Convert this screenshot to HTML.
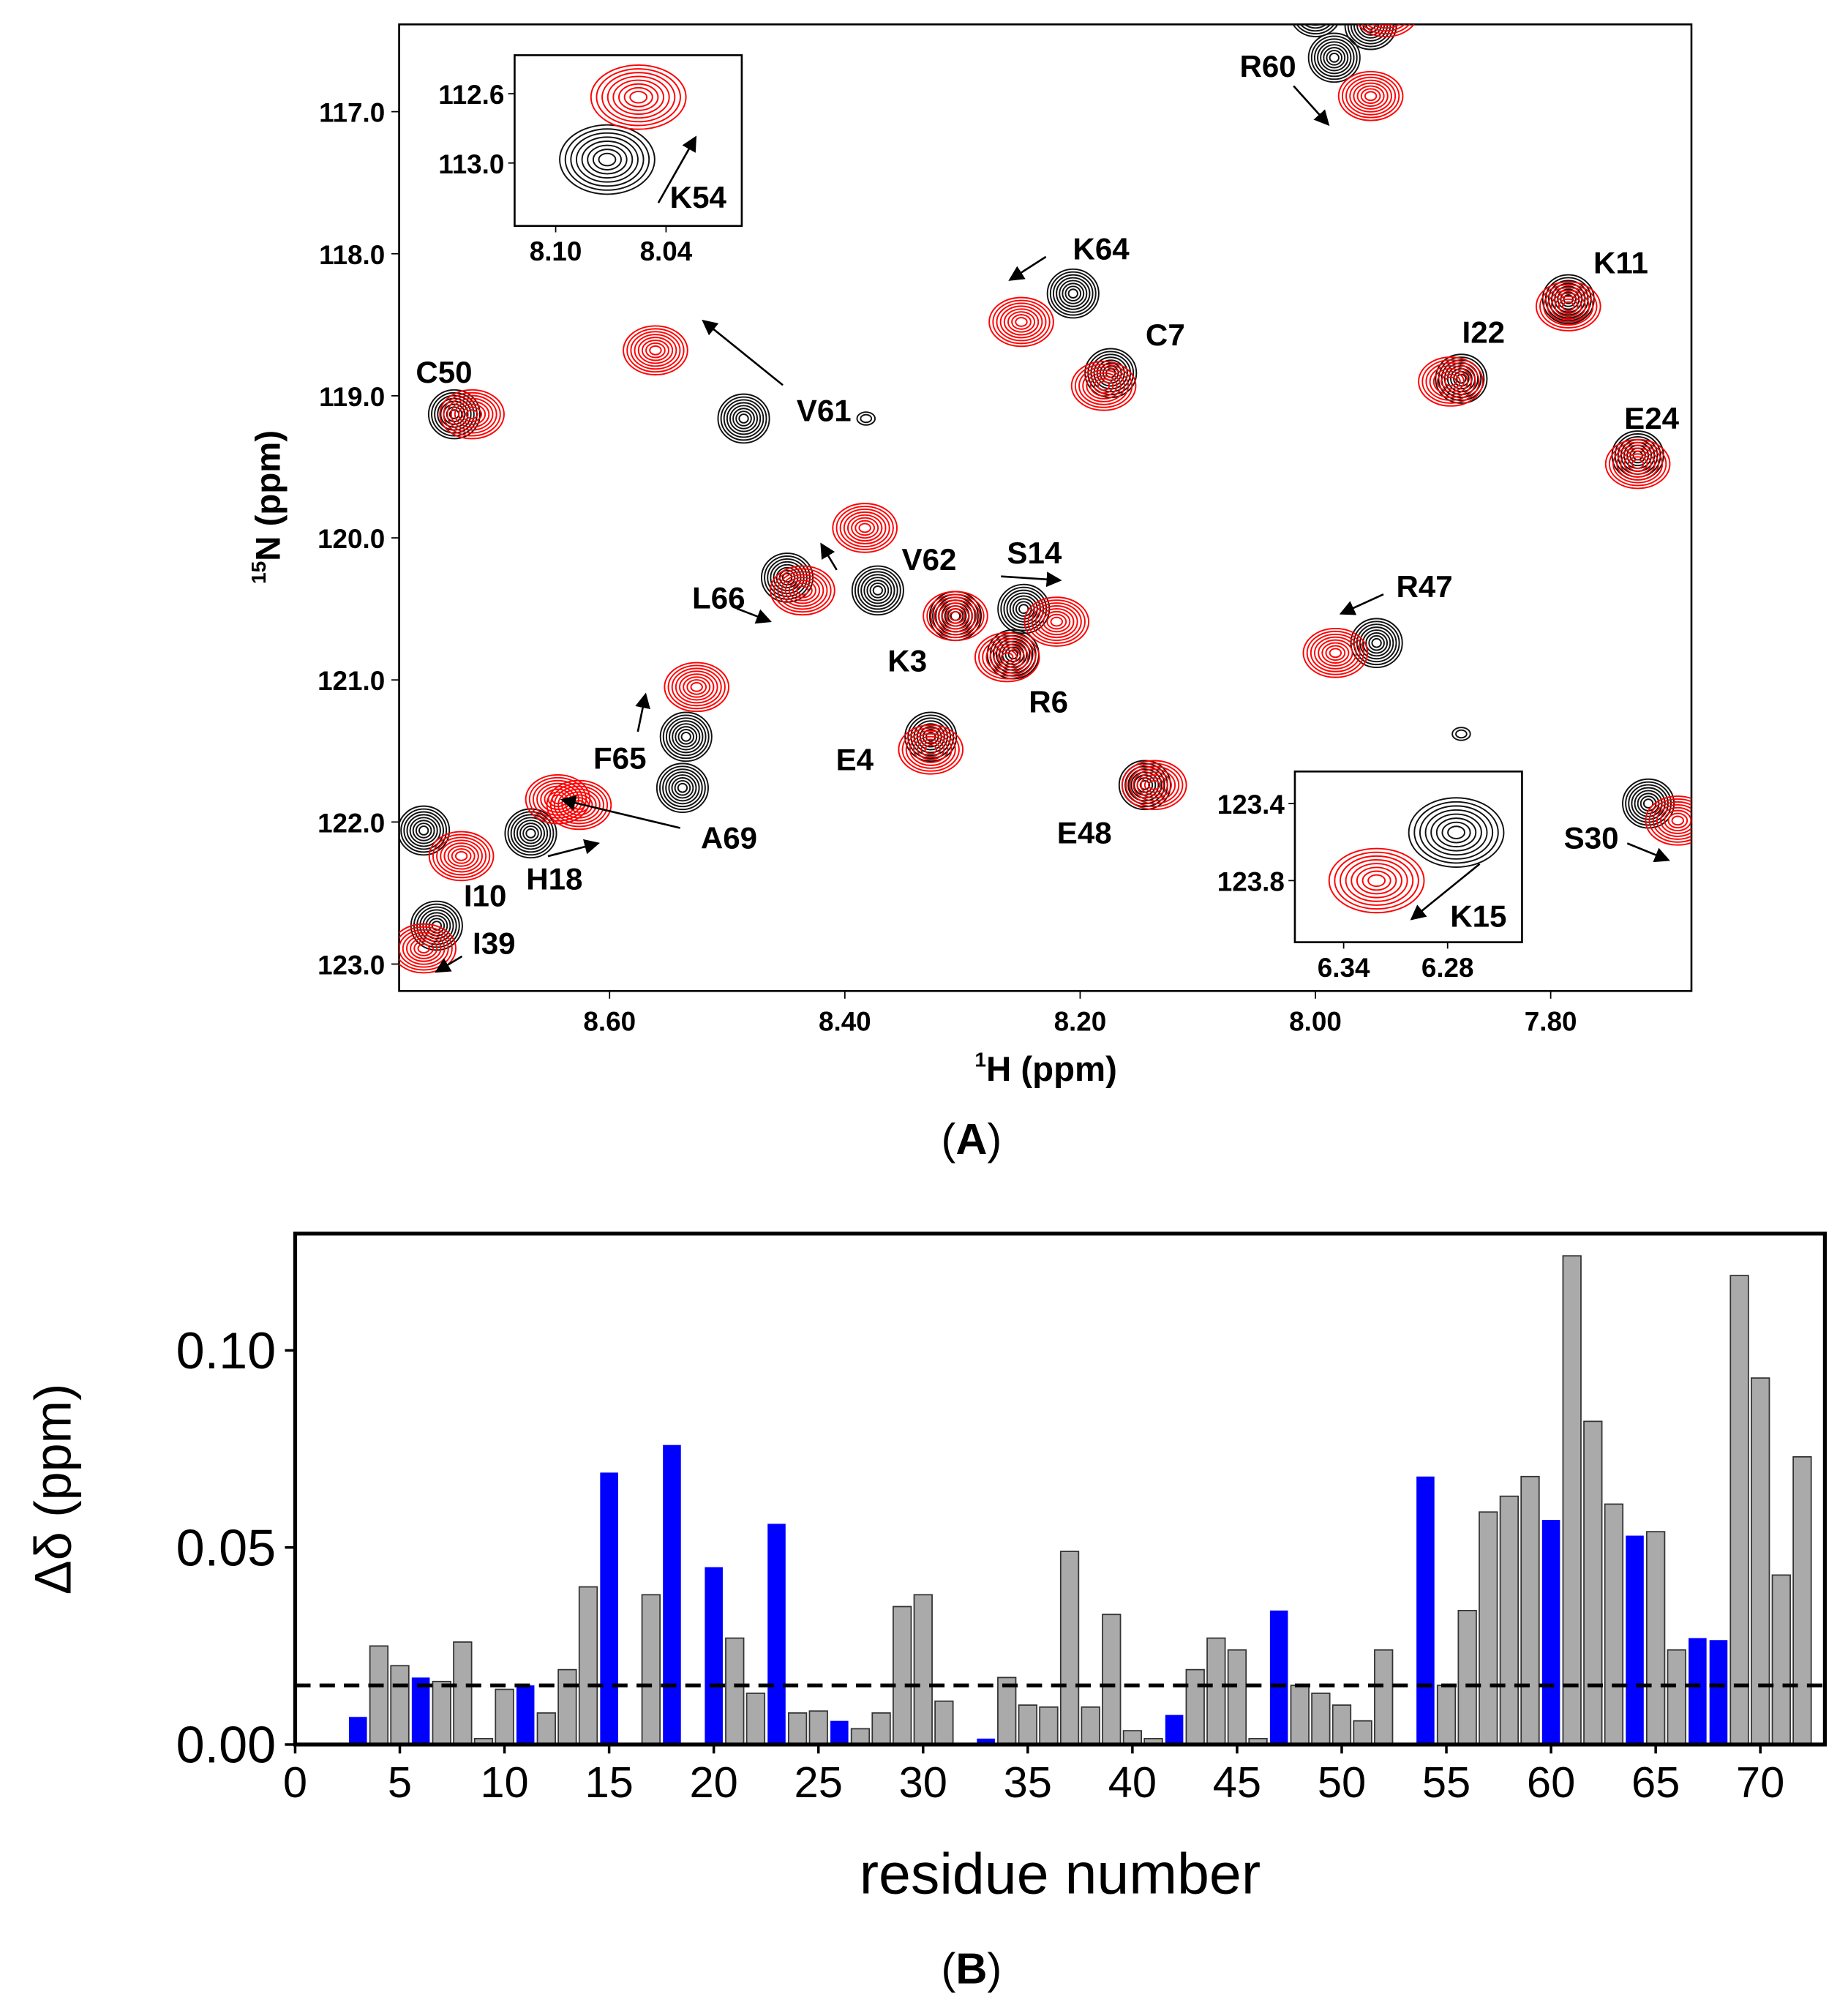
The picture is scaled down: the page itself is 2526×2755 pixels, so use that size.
<!DOCTYPE html>
<html><head><meta charset="utf-8"><style>
html,body{margin:0;padding:0;background:#fff}
svg{display:block}
text{font-family:"Liberation Sans",sans-serif}
.lb{font-weight:bold;font-size:24px}
.tk{font-weight:bold;font-size:21px}
</style></head><body>
<svg id="fig" width="2526" height="2755" viewBox="0 0 1440 1570.5" preserveAspectRatio="none" xmlns="http://www.w3.org/2000/svg">
<defs><marker id="ah" markerWidth="8" markerHeight="8" refX="7" refY="4" orient="auto"><path d="M0,0 L8,4 L0,8 z" fill="#000"/></marker></defs>
<g id="pa"></g>
<g id="pb"></g>
</svg>
<script>
const NS="http://www.w3.org/2000/svg";
function mk(p,t,a,txt){const e=document.createElementNS(NS,t);for(const k in a)e.setAttribute(k,a[k]);if(txt!==undefined)e.textContent=txt;p.appendChild(e);return e;}

// ---------- Panel A data ----------
const hTicks=[8.60,8.40,8.20,8.00,7.80];
const nTicks=[117.0,118.0,119.0,120.0,121.0,122.0,123.0];
const peakH=[8.732,8.486,8.206,8.174,7.984,7.785,7.876,7.726,8.449,8.372,8.248,8.306,8.257,8.327,7.948,8.145,7.717,8.535,8.538,8.758,8.667,8.747,7.953,8.00,8.382,7.876];
const peakN=[119.13,119.16,118.28,118.84,116.62,118.32,118.88,119.42,120.28,120.37,120.50,120.55,120.82,121.40,120.74,121.74,121.87,121.40,121.76,122.06,122.08,122.73,116.39,116.3,119.16,121.38];
const redH=[8.717,8.561,8.250,8.180,7.953,7.785,7.885,7.726,8.436,8.383,8.220,8.306,8.262,8.327,7.983,8.137,7.692,8.526,8.644,8.726,8.626,8.758,7.940];
const redN=[119.13,118.68,118.48,118.93,116.89,118.37,118.9,119.48,120.37,119.93,120.59,120.55,120.84,121.49,120.81,121.74,121.99,121.05,121.84,122.24,121.88,122.89,116.3];
const labels=["C50","V61","K64","C7","R60","K11","I22","E24","V62","S14","L66","K3","R6","E4","R47","E48","S30","F65","A69","H18","I10","I39"];
const labelH=[8.7407,8.4178,8.1822,8.1276,8.0404,7.7404,7.8571,7.7142,8.3284,8.2389,8.5073,8.3469,8.2269,8.3916,7.9073,8.1964,7.7655,8.5913,8.4985,8.6469,8.7058,8.6982];
const labelN=[118.907,119.178,118.039,118.645,116.756,118.139,118.626,119.232,120.226,120.181,120.497,120.940,121.229,121.635,120.416,122.150,122.187,121.626,122.187,122.476,122.594,122.928];

const X=v=>475+(8.60-v)*916.67, Y=v=>87+(v-117)*110.67;
const A=document.getElementById('pa');
mk(A,'rect',{x:311,y:19,width:1007,height:753,fill:'none',stroke:'#000','stroke-width':1.5});
hTicks.forEach(t=>{mk(A,'line',{x1:X(t),x2:X(t),y1:772,y2:778,stroke:'#000'});
 const e=mk(A,'text',{x:X(t),y:803,'text-anchor':'middle',class:'tk'},t.toFixed(2));
 });
nTicks.forEach(t=>{mk(A,'line',{x1:305,x2:311,y1:Y(t),y2:Y(t),stroke:'#000'});
 const e=mk(A,'text',{x:300,y:Y(t)+8,'text-anchor':'end',class:'tk'},t.toFixed(1));
 });
let t=mk(A,'text',{x:815,y:842,'text-anchor':'middle','font-weight':'bold','font-size':27});
t.innerHTML='<tspan font-size="16" dy="-11">1</tspan><tspan dy="11">H (ppm)</tspan>';

t=mk(A,'text',{transform:'translate(218,395) rotate(-90)','text-anchor':'middle','font-weight':'bold','font-size':27});
t.innerHTML='<tspan font-size="16" dy="-11">15</tspan><tspan dy="11">N (ppm)</tspan>';


const clipG=mk(A,'g',{});
mk(mk(A,'clipPath',{id:'cp'}),'rect',{x:311,y:19,width:1007,height:753});
clipG.setAttribute('clip-path','url(#cp)');
function contour(g,cx,cy,col,rx,ry,n){n=n||8;for(let i=0;i<n;i++){const f=1-i/(n+0.5);
 mk(g,'ellipse',{cx:cx,cy:cy,rx:rx*f,ry:ry*f,fill:'none',stroke:col,'stroke-width':1.1});}}
peakH.forEach((h,i)=>{const g=mk(clipG,'g',{});
 
 const small=i>=24; if(small) contour(g,X(h),Y(peakN[i]),'#111',7,5,2); else contour(g,X(h),Y(peakN[i]),'#111',20,19);});
redH.forEach((h,i)=>{const g=mk(clipG,'g',{});
 
 contour(g,X(h),Y(redN[i]),'#f00',25,19);});
labels.forEach((s,i)=>{const e=mk(A,'text',{x:X(labelH[i]),y:Y(labelN[i]),'text-anchor':'middle',class:'lb'},s);
 });
[[1008,67,1035,97],[610,300,548,250],[815,200,787,218],[652,444,640,424],[780,449,826,452],[574,474,600,484],[1078,463,1045,478],[497,570,503,541],[530,645,438,623],[427,667,466,657],[360,745,340,757],[1268,657,1300,670]].forEach(a=>{
 const l=mk(A,'line',{x1:a[0],y1:a[1],x2:a[2],y2:a[3],stroke:'#000','stroke-width':1.5,'marker-end':'url(#ah)'});
 });

// insets
function inset(name,bx,by,bw,bh,hA,hB,xA,xB,nA,nB,yA,yB,bh1,bn1,rh1,rn1,lab,lx,ly,ar){
 const g=mk(A,'g',{});
 mk(g,'rect',{x:bx,y:by,width:bw,height:bh,fill:'#fff',stroke:'#000','stroke-width':1.5});
 const ix=v=>xA+(hA-v)*(xB-xA)/(hA-hB), iy=v=>yA+(v-nA)*(yB-yA)/(nB-nA);
 [hA,hB].forEach(v=>{mk(g,'text',{x:ix(v),y:by+bh+27,'text-anchor':'middle',class:'tk'},v.toFixed(2));mk(g,'line',{x1:ix(v),x2:ix(v),y1:by+bh,y2:by+bh+5,stroke:'#000'});});
 [nA,nB].forEach(v=>{mk(g,'text',{x:bx-8,y:iy(v)+8,'text-anchor':'end',class:'tk'},v.toFixed(1));mk(g,'line',{x1:bx-5,x2:bx,y1:iy(v),y2:iy(v),stroke:'#000'});});
 contour(g,ix(bh1),iy(bn1),'#111',37,27);contour(g,ix(rh1),iy(rn1),'#f00',37,25);
 mk(g,'text',{x:lx,y:ly,class:'lb'},lab);
 mk(g,'line',{x1:ar[0],y1:ar[1],x2:ar[2],y2:ar[3],stroke:'#000','stroke-width':1.5,'marker-end':'url(#ah)'});
}
inset('k54-inset',401,43,177,133,8.10,8.04,433,519,112.6,113.0,73,127,8.072,112.98,8.055,112.62,'K54',522,162,[513,158,542,107]);
inset('k15-inset',1009,601,177,133,6.34,6.28,1047,1128,123.4,123.8,626,686,6.275,123.55,6.321,123.8,'K15',1130,722,[1153,673,1100,716]);

// ---------- Panel B data ----------
const residues=[3,4,5,6,7,8,9,10,11,12,13,14,15,17,18,20,21,22,23,24,25,26,27,28,29,30,31,33,34,35,36,37,38,39,40,41,42,43,44,45,46,47,48,49,50,51,52,54,55,56,57,58,59,60,61,62,63,64,65,66,67,68,69,70,71,72];
const shifts=[0.007,0.025,0.020,0.017,0.016,0.026,0.0015,0.014,0.015,0.008,0.019,0.040,0.069,0.038,0.076,0.045,0.027,0.013,0.056,0.008,0.0085,0.006,0.004,0.008,0.035,0.038,0.011,0.0015,0.017,0.010,0.0095,0.049,0.0095,0.033,0.0035,0.0015,0.0075,0.019,0.027,0.024,0.0015,0.034,0.015,0.013,0.010,0.006,0.024,0.068,0.015,0.034,0.059,0.063,0.068,0.057,0.124,0.082,0.061,0.053,0.054,0.024,0.027,0.0265,0.119,0.093,0.043,0.073];
const bluePos=[3,6,11,15,18,20,23,26,33,42,47,54,60,64,67,68];
const xTicks=[0,5,10,15,20,25,30,35,40,45,50,55,60,65,70];
const yTicks=[0,0.05,0.10];
const threshold=0.015;
const bx=v=>230+v*16.31, by=v=>1359-v*3070;
const B=document.getElementById('pb');
residues.forEach((r,i)=>{const bl=bluePos.includes(r);
 const e=mk(B,'rect',{x:bx(r)-7,y:by(shifts[i]),width:14,height:by(0)-by(shifts[i]),fill:bl?'#0000ff':'#aaa',stroke:bl?'#0000ff':'#333','stroke-width':bl?0:1});
 });
const th=mk(B,'line',{x1:230,x2:1422,y1:by(threshold),y2:by(threshold),stroke:'#000','stroke-width':3,'stroke-dasharray':'12,7'});

mk(B,'rect',{x:230,y:961,width:1192,height:398,fill:'none',stroke:'#000','stroke-width':3});
xTicks.forEach(v=>{mk(B,'line',{x1:bx(v),x2:bx(v),y1:1359,y2:1366,stroke:'#000','stroke-width':2});
 const e=mk(B,'text',{x:bx(v),y:1400,'text-anchor':'middle','font-size':34},String(v));
 });
yTicks.forEach(v=>{mk(B,'line',{x1:222,x2:230,y1:by(v),y2:by(v),stroke:'#000','stroke-width':2});
 const e=mk(B,'text',{x:215,y:by(v)+14,'text-anchor':'end','font-size':40},v.toFixed(2));
 });
t=mk(B,'text',{x:826,y:1475,'text-anchor':'middle','font-size':45},'residue number');

t=mk(B,'text',{transform:'translate(55,1160) rotate(-90)','text-anchor':'middle','font-size':40},'Δδ (ppm)');


const svg=document.getElementById('fig');
t=mk(svg,'text',{x:757,y:899,'text-anchor':'middle','font-family':'Liberation Serif, serif','font-size':34},'');
t.innerHTML='(<tspan font-weight="bold">A</tspan>)';
t=mk(svg,'text',{x:757,y:1545,'text-anchor':'middle','font-family':'Liberation Serif, serif','font-size':34},'');
t.innerHTML='(<tspan font-weight="bold">B</tspan>)';
</script>
</body></html>
